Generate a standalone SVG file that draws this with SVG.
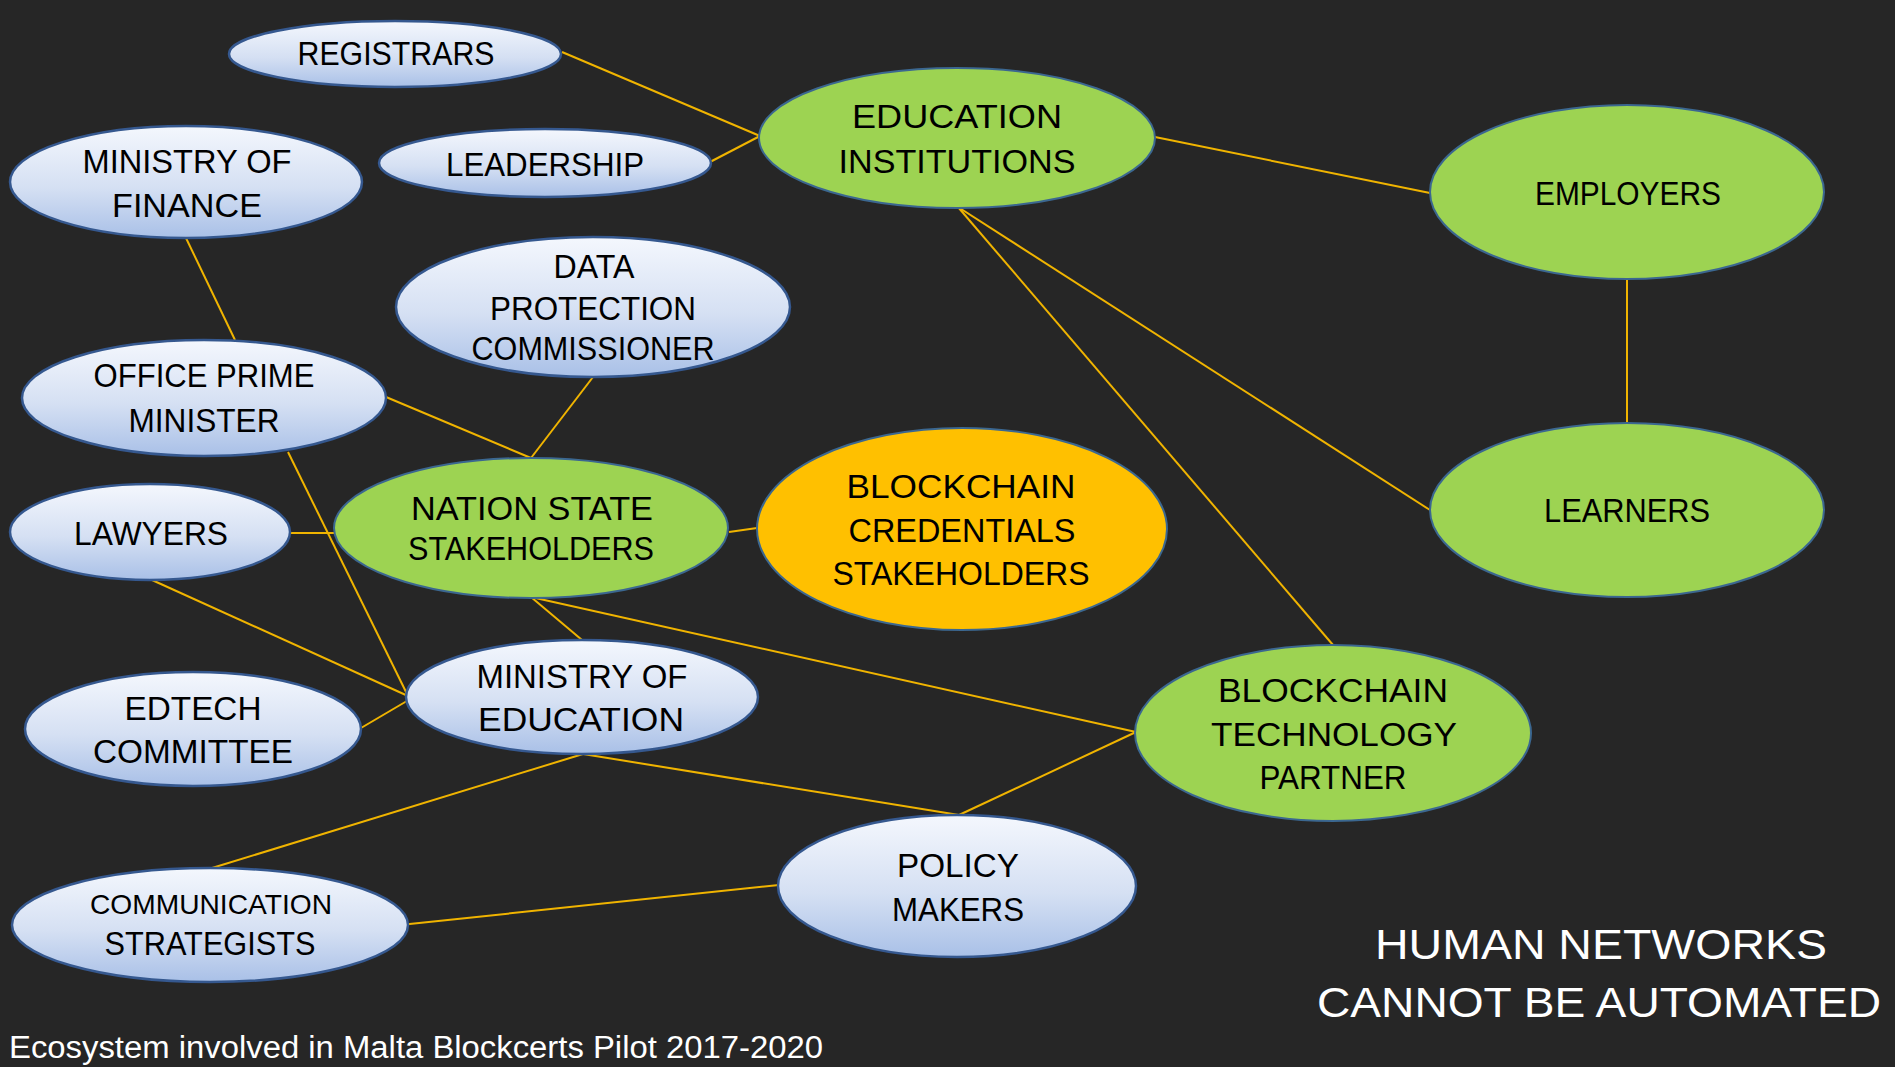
<svg xmlns="http://www.w3.org/2000/svg" width="1895" height="1067" viewBox="0 0 1895 1067">
<defs>
<linearGradient id="blue" x1="0" y1="0" x2="0" y2="1">
<stop offset="0" stop-color="#f4f7fd"/>
<stop offset="0.55" stop-color="#d5e0f3"/>
<stop offset="1" stop-color="#a9c0e7"/>
</linearGradient>
<style>
.bg{fill:#262626}
.blue{fill:url(#blue);stroke:#35588f;stroke-width:2.5}
.green{fill:#9dd352;stroke:#3b6790;stroke-width:2}
.orange{fill:#ffc000;stroke:#3b6790;stroke-width:2}
.lbl{font-family:"Liberation Sans","DejaVu Sans",sans-serif;font-size:33px;fill:#000;text-anchor:middle}
.sm{font-size:28px}
.conn line{stroke:#f0b400;stroke-width:2}
.white{font-family:"Liberation Sans","DejaVu Sans",sans-serif;fill:#fff}
</style>
</defs>
<rect class="bg" x="0" y="0" width="1895" height="1067"/>
<g id="connectors" class="conn">
<line x1="562" y1="52" x2="760" y2="136"/>
<line x1="710" y1="162" x2="760" y2="136"/>
<line x1="186" y1="238" x2="235" y2="340"/>
<line x1="386" y1="397" x2="531" y2="458"/>
<line x1="593" y1="377" x2="531" y2="458"/>
<line x1="288" y1="452" x2="408" y2="696"/>
<line x1="289" y1="533" x2="345" y2="533"/>
<line x1="152" y1="580" x2="408" y2="696"/>
<line x1="361" y1="728" x2="412" y2="698"/>
<line x1="531" y1="597" x2="582" y2="640"/>
<line x1="531" y1="597" x2="1136" y2="732"/>
<line x1="729" y1="532" x2="757" y2="528"/>
<line x1="583" y1="754" x2="959" y2="815"/>
<line x1="583" y1="754" x2="212" y2="868"/>
<line x1="1136" y1="732" x2="959" y2="815"/>
<line x1="400" y1="925" x2="779" y2="885"/>
<line x1="1155" y1="137" x2="1430" y2="193"/>
<line x1="958" y1="207" x2="1333" y2="645"/>
<line x1="958" y1="207" x2="1430" y2="510"/>
<line x1="1627" y1="280" x2="1627" y2="423"/>
</g>
<g id="registrars">
<ellipse class="blue" cx="395" cy="54" rx="166" ry="33"/>
<text class="lbl" x="396" y="65" textLength="197" lengthAdjust="spacingAndGlyphs">REGISTRARS</text>
</g>
<g id="leadership">
<ellipse class="blue" cx="545" cy="163" rx="166" ry="34"/>
<text class="lbl" x="545" y="176" textLength="198" lengthAdjust="spacingAndGlyphs">LEADERSHIP</text>
</g>
<g id="ministry-finance">
<ellipse class="blue" cx="186" cy="182" rx="176" ry="56"/>
<text class="lbl" x="187" y="173" textLength="209" lengthAdjust="spacingAndGlyphs">MINISTRY OF</text>
<text class="lbl" x="187" y="217" textLength="150" lengthAdjust="spacingAndGlyphs">FINANCE</text>
</g>
<g id="data-protection">
<ellipse class="blue" cx="593" cy="307" rx="197" ry="70"/>
<text class="lbl" x="594" y="278" textLength="81" lengthAdjust="spacingAndGlyphs">DATA</text>
<text class="lbl" x="593" y="320" textLength="206" lengthAdjust="spacingAndGlyphs">PROTECTION</text>
<text class="lbl" x="593" y="360" textLength="243" lengthAdjust="spacingAndGlyphs">COMMISSIONER</text>
</g>
<g id="office-pm">
<ellipse class="blue" cx="204" cy="398" rx="182" ry="58"/>
<text class="lbl" x="204" y="387" textLength="221" lengthAdjust="spacingAndGlyphs">OFFICE PRIME</text>
<text class="lbl" x="204" y="432" textLength="151" lengthAdjust="spacingAndGlyphs">MINISTER</text>
</g>
<g id="education-institutions">
<ellipse class="green" cx="957" cy="138" rx="198" ry="70"/>
<text class="lbl" x="957" y="128" textLength="210" lengthAdjust="spacingAndGlyphs">EDUCATION</text>
<text class="lbl" x="957" y="173" textLength="237" lengthAdjust="spacingAndGlyphs">INSTITUTIONS</text>
</g>
<g id="employers">
<ellipse class="green" cx="1627" cy="192" rx="197" ry="87"/>
<text class="lbl" x="1628" y="205" textLength="186" lengthAdjust="spacingAndGlyphs">EMPLOYERS</text>
</g>
<g id="learners">
<ellipse class="green" cx="1627" cy="510" rx="197" ry="87"/>
<text class="lbl" x="1627" y="522" textLength="166" lengthAdjust="spacingAndGlyphs">LEARNERS</text>
</g>
<g id="blockchain-credentials">
<ellipse class="orange" cx="962" cy="529" rx="205" ry="101"/>
<text class="lbl" x="961" y="498" textLength="229" lengthAdjust="spacingAndGlyphs">BLOCKCHAIN</text>
<text class="lbl" x="962" y="542" textLength="227" lengthAdjust="spacingAndGlyphs">CREDENTIALS</text>
<text class="lbl" x="961" y="585" textLength="257" lengthAdjust="spacingAndGlyphs">STAKEHOLDERS</text>
</g>
<g id="blockchain-partner">
<ellipse class="green" cx="1333" cy="733" rx="198" ry="88"/>
<text class="lbl" x="1333" y="702" textLength="230" lengthAdjust="spacingAndGlyphs">BLOCKCHAIN</text>
<text class="lbl" x="1334" y="746" textLength="246" lengthAdjust="spacingAndGlyphs">TECHNOLOGY</text>
<text class="lbl" x="1333" y="789" textLength="147" lengthAdjust="spacingAndGlyphs">PARTNER</text>
</g>
<g id="policy-makers">
<ellipse class="blue" cx="957" cy="886" rx="179" ry="71"/>
<text class="lbl" x="958" y="877" textLength="122" lengthAdjust="spacingAndGlyphs">POLICY</text>
<text class="lbl" x="958" y="921" textLength="132" lengthAdjust="spacingAndGlyphs">MAKERS</text>
</g>
<g id="lawyers">
<ellipse class="blue" cx="150" cy="532" rx="140" ry="48"/>
<text class="lbl" x="151" y="545" textLength="154" lengthAdjust="spacingAndGlyphs">LAWYERS</text>
</g>
<g id="nation-state">
<ellipse class="green" cx="531" cy="528" rx="197" ry="70"/>
<text class="lbl" x="532" y="520" textLength="242" lengthAdjust="spacingAndGlyphs">NATION STATE</text>
<text class="lbl" x="531" y="560" textLength="246" lengthAdjust="spacingAndGlyphs">STAKEHOLDERS</text>
</g>
<g id="ministry-education">
<ellipse class="blue" cx="582" cy="697" rx="176" ry="57"/>
<text class="lbl" x="582" y="688" textLength="211" lengthAdjust="spacingAndGlyphs">MINISTRY OF</text>
<text class="lbl" x="581" y="731" textLength="206" lengthAdjust="spacingAndGlyphs">EDUCATION</text>
</g>
<g id="edtech">
<ellipse class="blue" cx="193" cy="729" rx="168" ry="57"/>
<text class="lbl" x="193" y="720" textLength="137" lengthAdjust="spacingAndGlyphs">EDTECH</text>
<text class="lbl" x="193" y="763" textLength="200" lengthAdjust="spacingAndGlyphs">COMMITTEE</text>
</g>
<g id="communication">
<ellipse class="blue" cx="210" cy="925" rx="198" ry="57"/>
<text class="lbl sm" x="211" y="914" textLength="242" lengthAdjust="spacingAndGlyphs">COMMUNICATION</text>
<text class="lbl" x="210" y="955" textLength="211" lengthAdjust="spacingAndGlyphs">STRATEGISTS</text>
</g>
<g id="slogan">
<text class="white" x="1601" y="959" font-size="43" text-anchor="middle" textLength="452" lengthAdjust="spacingAndGlyphs">HUMAN NETWORKS</text>
<text class="white" x="1599" y="1017" font-size="43" text-anchor="middle" textLength="564" lengthAdjust="spacingAndGlyphs">CANNOT BE AUTOMATED</text>
</g>
<text class="white" x="9" y="1058" font-size="31" textLength="814" lengthAdjust="spacingAndGlyphs">Ecosystem involved in Malta Blockcerts Pilot 2017-2020</text>
</svg>
